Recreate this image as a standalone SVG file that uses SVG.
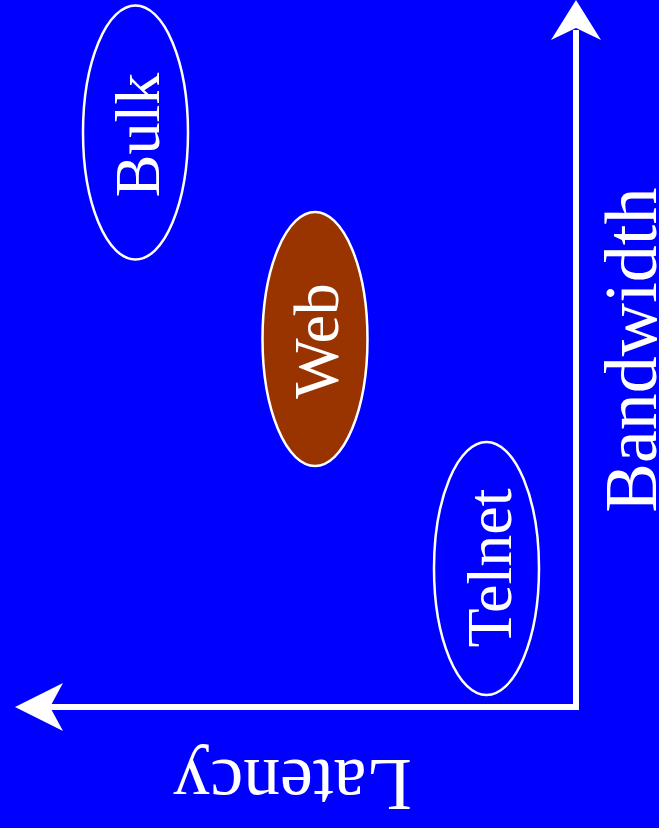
<svg xmlns="http://www.w3.org/2000/svg" width="659" height="828" viewBox="0 0 659 828">
<style>
.bg{fill:#0000ff}
.node{stroke:#ffffff;stroke-width:2.5}
.lbl{fill:#ffffff;text-anchor:middle}
.axis{stroke:#ffffff;stroke-width:6;fill:none}
.head{fill:#ffffff}
</style>
<rect class="bg" x="0" y="0" width="659" height="828"/>
<g id="connectors">
<path class="axis" d="M576,30 L576,707 L48,707"/>
<polygon class="head" points="576,0 601,40 576,28 551,40"/>
<polygon class="head" points="15,707 63,683 50,707 63,731"/>
</g>
<g font-family="Liberation Serif, Tinos, Times New Roman, Times, serif">
<g id="bulk">
<ellipse class="node" cx="135.5" cy="132.5" rx="52.5" ry="127" fill="#0000ff"/>
<text class="lbl" font-size="64" transform="translate(159,135) rotate(-90)">Bulk</text>
</g>
<g id="web">
<ellipse class="node" cx="315" cy="339" rx="52.5" ry="127" fill="#993300"/>
<text class="lbl" font-size="64" transform="translate(338,341) rotate(-90)">Web</text>
</g>
<g id="telnet">
<ellipse class="node" cx="486.5" cy="568.5" rx="52.5" ry="126.5" fill="#0000ff"/>
<text class="lbl" font-size="64" transform="translate(511,568) rotate(-90)">Telnet</text>
</g>
<g id="bandwidth">
<text class="lbl" font-size="74" transform="translate(656,350) rotate(-90)">Bandwidth</text>
</g>
<g id="latency">
<text class="lbl" font-size="74" transform="translate(292.5,760) rotate(180)">Latency</text>
</g>
</g>
</svg>
